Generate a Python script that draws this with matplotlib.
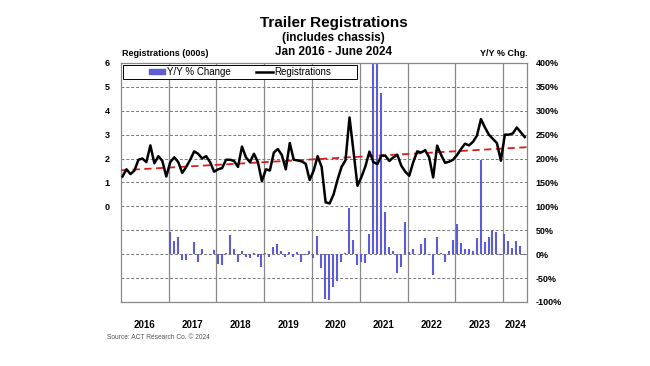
import numpy as np
import matplotlib.pyplot as plt
from matplotlib.patches import Patch, Rectangle
from matplotlib.lines import Line2D

plt.rcParams['font.family'] = ['Liberation Sans', 'DejaVu Sans']

# Monthly registrations (000s), Jan 2016 - Jun 2024
registrations = [
    1.25, 1.55, 1.35, 1.50, 1.95, 2.00, 1.85, 2.55, 1.80, 2.10, 1.90, 1.25,  # 2016
    1.85, 2.05, 1.85, 1.40, 1.65, 1.95, 2.30, 2.20, 2.00, 2.10, 1.85, 1.45,  # 2017
    1.55, 1.60, 1.95, 1.95, 1.90, 1.65, 2.50, 2.05, 1.85, 2.20, 1.85, 1.05,  # 2018
    1.55, 1.50, 2.25, 2.40, 2.15, 1.55, 2.65, 1.95, 1.92, 1.88, 1.78, 1.10,  # 2019
    1.50, 2.10, 1.65, 0.17, 0.12, 0.50, 1.12, 1.65, 1.93, 3.72, 2.30, 0.86,  # 2020
    1.23, 1.68, 2.29, 1.85, 1.77, 2.12, 2.12, 1.90, 2.05, 2.16, 1.70, 1.45,  # 2021
    1.28, 1.85, 2.30, 2.25, 2.35, 2.05, 1.21, 2.54, 2.15, 1.82, 1.87, 1.95,  # 2022
    2.15, 2.40, 2.62, 2.55, 2.70, 2.96, 3.65, 3.30, 3.00, 2.82, 2.65, 1.91,  # 2023
    3.00, 3.00, 3.05, 3.30, 3.10, 2.90,                                      # 2024
]

# Y/Y % change, Jan 2017 - Jun 2024
yoy = [
    47, 28, 35, -12, -12, -2, 26, -16, 10, 1, -2, 9,          # 2017
    -20, -22, 3, 40, 10, -17, 7, -7, -9, 3, -5, -26,          # 2018
    3, -7, 15, 22, 7, -7, 4, -5, 5, -16, -2, 7,               # 2019
    -8, 38, -28, -94, -96, -69, -57, -17, 3, 97, 29, -23,     # 2020
    -17, -19, 42, 990, 1380, 337, 89, 15, 6, -40, -26, 68,    # 2021
    4, 10, 1, 21, 33, -2, -43, 35, 3, -17, 6, 30,             # 2022
    64, 23, 10, 10, 7, 33, 197, 26, 36, 51, 46, -2,           # 2023
    43, 28, 12, 28, 17, -1,                                   # 2024
]

years = ['2016', '2017', '2018', '2019', '2020', '2021', '2022', '2023', '2024']

reg = np.array(registrations)
x_reg = np.arange(len(reg)) + 0.4
x_yoy = np.arange(12, 12 + len(yoy)) + 0.3

bar_color = '#5c5cd6'

fig = plt.figure(figsize=(6.5, 3.66), dpi=100)
ax = fig.add_axes([0.186, 0.175, 0.625, 0.653])
ax2 = ax.twinx()

# bars on the % axis (right side), drawn as thin columns
ax.vlines(x_yoy, 0, yoy, color=bar_color, lw=1.5, zorder=2)
ax.set_ylim(-100, 400)
ax.set_yticks(range(-100, 401, 50))
ax.set_yticklabels(['%d%%' % v for v in range(-100, 401, 50)], fontsize=6.5, fontweight='bold')
ax.set_xlim(0, 102)

# grid
for v in range(-50, 400, 50):
    ax.axhline(v, color='#777777', lw=0.7, ls=(0, (3, 2)), zorder=1)
for k in range(1, 9):
    ax.axvline(12 * k, color='#888888', lw=0.9, zorder=1)

ax.set_xticks([6 + 12 * k for k in range(8)] + [99])
ax.set_xticklabels(years, fontsize=7, fontweight='bold')
ax.tick_params(axis='x', length=0, pad=13)

for s in ax.spines.values():
    s.set_color('#888888')
    s.set_linewidth(0.9)

# registrations on the left axis (0 lines up with 100%)
ax2.plot(x_reg, reg, color='black', lw=1.8, zorder=4)
fit = np.polyfit(x_reg, reg, 1)
xx = np.array([0, 102])
ax2.plot(xx, fit[0] * xx + fit[1], color='#dd1c1c', lw=1.3, ls=(0, (4, 2.5)), zorder=3)
ax2.set_ylim(-4, 6)
ax2.set_yticks(range(0, 7))
ax2.set_yticklabels([str(v) for v in range(0, 7)], fontsize=6.5, fontweight='bold')
ax2.set_xlim(0, 102)
for s in ax2.spines.values():
    s.set_visible(False)

ax.yaxis.tick_right()
ax.tick_params(axis='y', length=0, pad=6)
ax2.yaxis.tick_left()
ax2.tick_params(axis='y', length=0, pad=8)

# legend box + centred entries
ax2.add_patch(Rectangle((0.005, 0.933), 0.576, 0.06, transform=ax2.transAxes,
                        facecolor='white', edgecolor='black', lw=0.7, zorder=5))
handles = [Patch(color=bar_color), Line2D([], [], color='black', lw=1.8)]
leg = ax2.legend(handles, ['Y/Y % Change', 'Registrations'], ncol=2,
                 loc='center', bbox_to_anchor=(0.293, 0.963),
                 fontsize=7, frameon=False, borderpad=0,
                 handlelength=1.7, handleheight=0.5, handletextpad=0.2, columnspacing=2.6,
                 borderaxespad=0)
leg.set_zorder(6)

# titles and labels
fig.text(0.513, 0.937, 'Trailer Registrations', ha='center', va='center', fontsize=11, fontweight='bold')
fig.text(0.513, 0.897, '(includes chassis)', ha='center', va='center', fontsize=8.5, fontweight='bold')
fig.text(0.513, 0.859, 'Jan 2016 - June 2024', ha='center', va='center', fontsize=8.5, fontweight='bold')
fig.text(0.188, 0.855, 'Registrations (000s)', ha='left', va='center', fontsize=6.5, fontweight='bold')
fig.text(0.811, 0.855, 'Y/Y % Chg.', ha='right', va='center', fontsize=6.5, fontweight='bold')
fig.text(0.165, 0.078, 'Source: ACT Research Co. \u00a9 2024', ha='left', va='center', fontsize=4.8, color='#555555')

fig.savefig('out.png', dpi=100)
